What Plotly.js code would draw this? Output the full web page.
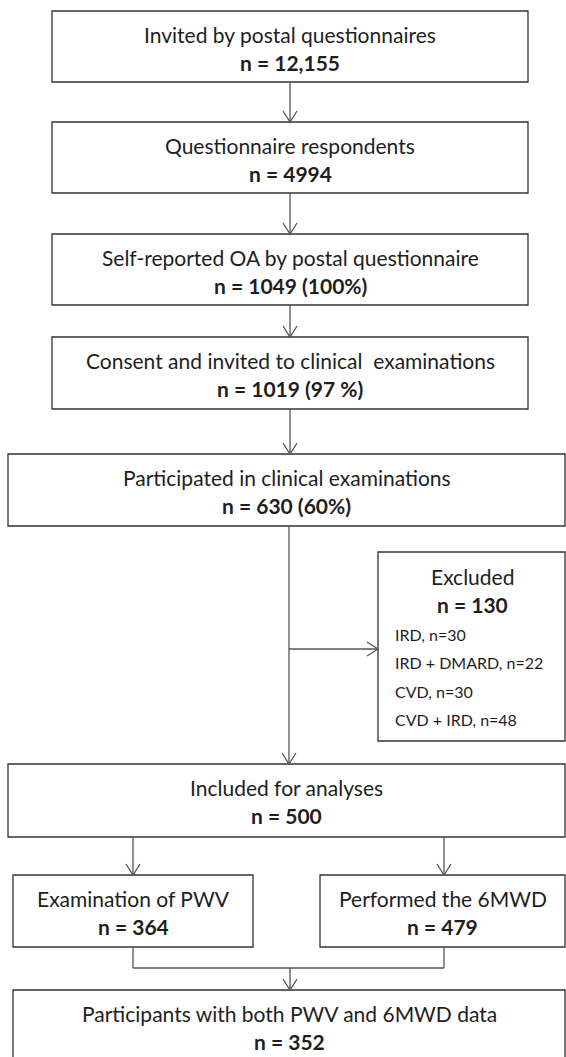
<!DOCTYPE html>
<html>
<head>
<meta charset="utf-8">
<script src="https://cdn.plot.ly/plotly-3.0.1.min.js"></script>
<style>html,body{margin:0;padding:0;background:#fff;}#chart{width:566px;height:1057px;}</style>
</head>
<body>
<div id="chart"></div>
<script>
// ---- data ----
const stageLabels = [
  "Invited by postal questionnaires",
  "Questionnaire respondents",
  "Self-reported OA by postal questionnaire",
  "Consent and invited to clinical  examinations",
  "Participated in clinical examinations",
  "Included for analyses",
  "Examination of PWV",
  "Performed the 6MWD",
  "Participants with both PWV and 6MWD data"
];
const stageCounts = [12155, 4994, 1049, 1019, 630, 500, 364, 479, 352];
const stagePercents = ["", "", "100%", "97 %", "60%", "", "", "", ""];
const excludedTitle = "Excluded";
const excludedTotal = 130;
const excludedLabels = ["IRD", "IRD + DMARD", "CVD", "CVD + IRD"];
const excludedCounts = [30, 22, 30, 48];

// ---- layout geometry (pixel-like data coords) ----
const W = 566, H = 1057;
const boxes = [
  {x0: 52, x1: 528, y0: 11,  y1: 82},
  {x0: 52, x1: 528, y0: 122, y1: 193},
  {x0: 52, x1: 528, y0: 234, y1: 305},
  {x0: 52, x1: 528, y0: 337, y1: 409},
  {x0: 8,  x1: 565, y0: 454, y1: 526},
  {x0: 8,  x1: 565, y0: 764, y1: 837},
  {x0: 13, x1: 253, y0: 875, y1: 947},
  {x0: 320,x1: 565, y0: 875, y1: 947},
  {x0: 13, x1: 565, y0: 990, y1: 1080}
];
const exBox = {x0: 378, x1: 565, y0: 552, y1: 741};
const cx = 290;
const boxColor = "#333333";
const lineColor = "#555555";
const textColor = "#1e1e1e";
const fontFam = "Lato, 'Open Sans', sans-serif";
const mainSize = 21;

function fmt(n){ return n >= 10000 ? n.toLocaleString("en-US") : String(n); }

const shapes = [];
const annotations = [];

boxes.forEach((b, i) => {
  shapes.push({type: "rect", xref: "x", yref: "y", x0: b.x0, x1: b.x1, y0: b.y0, y1: b.y1,
    line: {color: boxColor, width: 1.3}, fillcolor: "rgba(0,0,0,0)"});
  const mx = (b.x0 + b.x1) / 2;
  annotations.push({x: mx, y: b.y0 + 23, xref: "x", yref: "y", text: stageLabels[i],
    showarrow: false, xanchor: "center", yanchor: "middle",
    font: {family: fontFam, size: mainSize, color: textColor}});
  const pct = stagePercents[i] ? " (" + stagePercents[i] + ")" : "";
  annotations.push({x: mx, y: b.y0 + 51, xref: "x", yref: "y", text: "<b>n = " + fmt(stageCounts[i]) + pct + "</b>",
    showarrow: false, xanchor: "center", yanchor: "middle",
    font: {family: fontFam, size: mainSize, color: textColor}});
});

// excluded box
shapes.push({type: "rect", xref: "x", yref: "y", x0: exBox.x0, x1: exBox.x1, y0: exBox.y0, y1: exBox.y1,
  line: {color: boxColor, width: 1.3}, fillcolor: "rgba(0,0,0,0)"});
const exMx = 472;
annotations.push({x: exMx, y: 576, xref: "x", yref: "y", text: excludedTitle, showarrow: false,
  xanchor: "center", yanchor: "middle", font: {family: fontFam, size: 21, color: textColor}});
annotations.push({x: exMx, y: 604, xref: "x", yref: "y", text: "<b>n = " + excludedTotal + "</b>", showarrow: false,
  xanchor: "center", yanchor: "middle", font: {family: fontFam, size: 21, color: textColor}});
excludedLabels.forEach((lab, i) => {
  annotations.push({x: 393, y: 634 + i * 28.5, xref: "x", yref: "y", text: lab + ", n=" + excludedCounts[i],
    showarrow: false, xanchor: "left", yanchor: "middle",
    font: {family: fontFam, size: 16, color: textColor}});
});

function vline(x, y0, y1){ shapes.push({type: "line", xref: "x", yref: "y", x0: x, x1: x, y0: y0, y1: y1, line: {color: lineColor, width: 1.3}}); }
function hline(y, x0, x1){ shapes.push({type: "line", xref: "x", yref: "y", x0: x0, x1: x1, y0: y, y1: y, line: {color: lineColor, width: 1.3}}); }
function downHead(x, y){ shapes.push({type: "path", xref: "x", yref: "y", path: `M ${x-7},${y-11} L ${x},${y} L ${x+7},${y-11}`, line: {color: lineColor, width: 1.3}}); }
function rightHead(x, y){ shapes.push({type: "path", xref: "x", yref: "y", path: `M ${x-11},${y-7} L ${x},${y} L ${x-11},${y+7}`, line: {color: lineColor, width: 1.3}}); }

// main column arrows
for (let i = 0; i < 4; i++) {
  vline(cx, boxes[i].y1, boxes[i+1].y0);
  downHead(cx, boxes[i+1].y0);
}
vline(289, boxes[4].y1, boxes[5].y0);
downHead(289, boxes[5].y0);
const exArrowY = 649;
hline(exArrowY, 289, exBox.x0);
rightHead(exBox.x0, exArrowY);

// split
const lx = 133, rx = 444;
vline(lx, boxes[5].y1, boxes[6].y0); downHead(lx, boxes[6].y0);
vline(rx, boxes[5].y1, boxes[7].y0); downHead(rx, boxes[7].y0);
// merge
const my = 968;
vline(lx, boxes[6].y1, my);
vline(rx, boxes[7].y1, my);
hline(my, lx, rx);
vline(cx, my, boxes[8].y0); downHead(cx, boxes[8].y0);

const layout = {
  width: W, height: H,
  margin: {l: 0, r: 0, t: 0, b: 0},
  paper_bgcolor: "#ffffff", plot_bgcolor: "#ffffff",
  xaxis: {range: [0, W], visible: false, fixedrange: true},
  yaxis: {range: [H, 0], visible: false, fixedrange: true},
  showlegend: false,
  shapes: shapes,
  annotations: annotations
};
Plotly.newPlot("chart", [{x: [], y: [], type: "scatter", mode: "markers", hoverinfo: "skip"}], layout, {staticPlot: true, displayModeBar: false});
</script>
</body>
</html>
